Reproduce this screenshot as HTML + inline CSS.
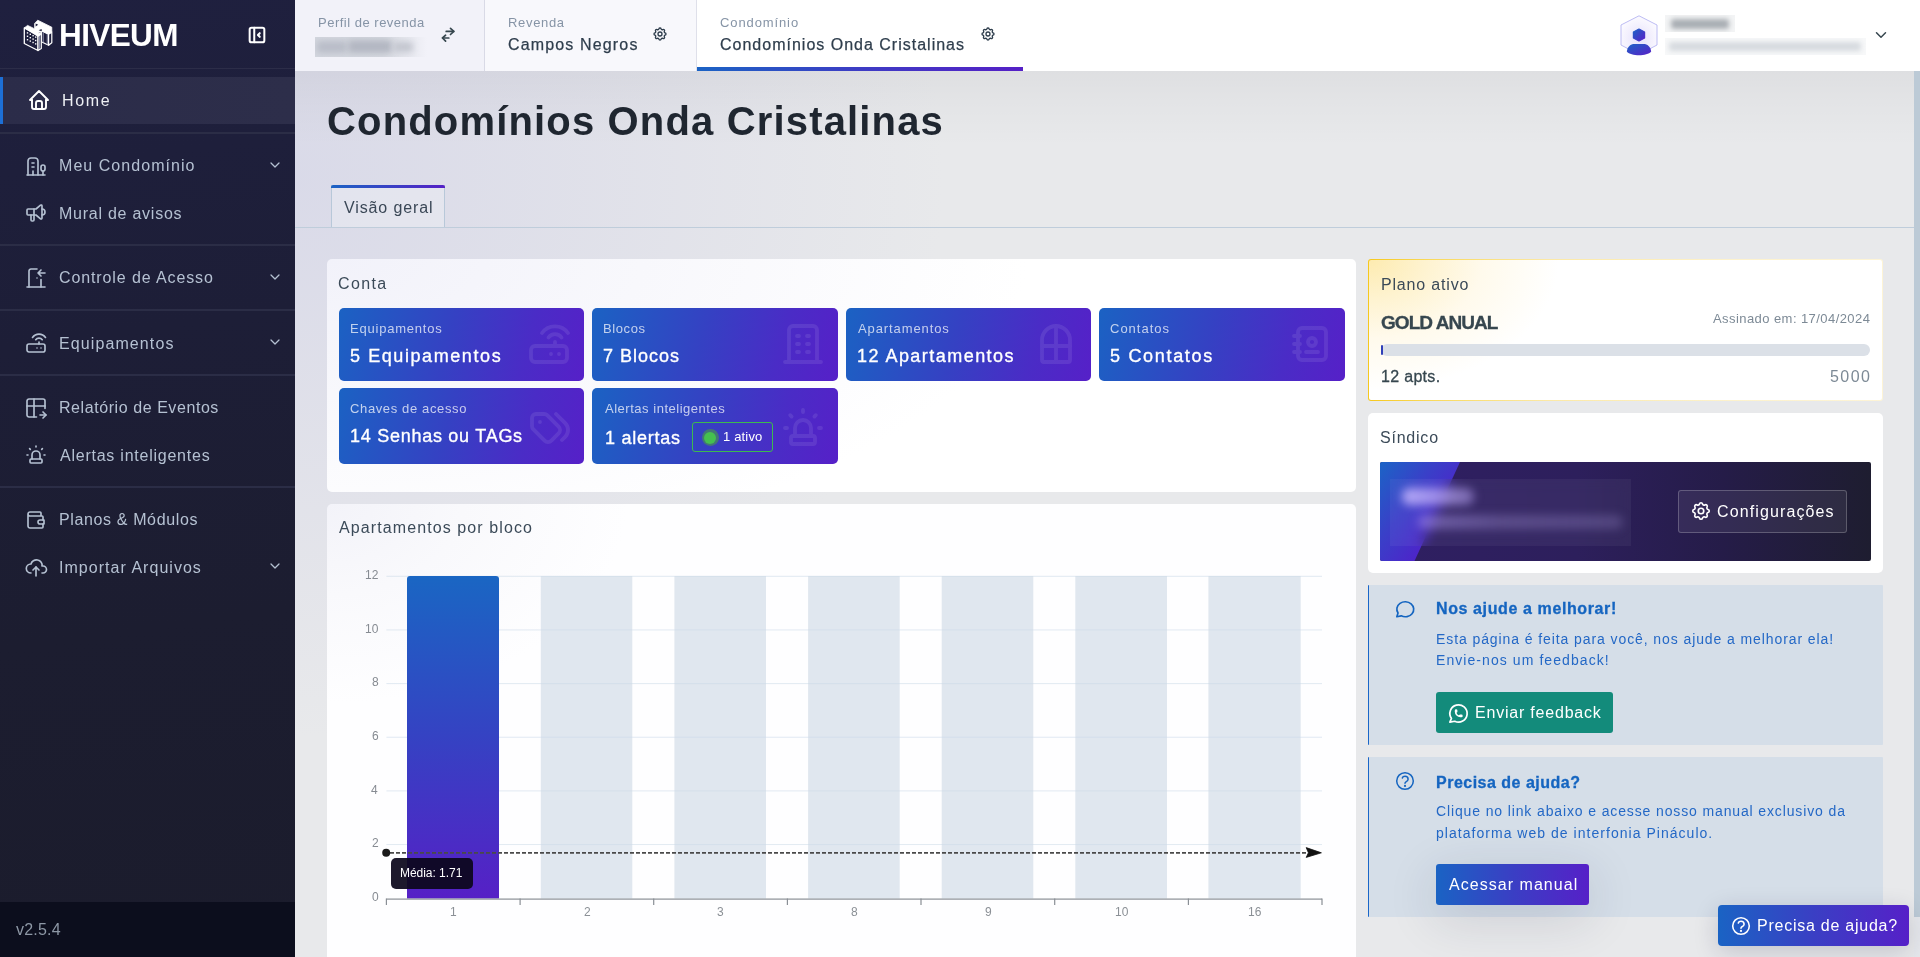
<!DOCTYPE html><html><head><meta charset="utf-8"><style>*{margin:0;padding:0;box-sizing:content-box}
html,body{width:1920px;height:957px;overflow:hidden;background:#e6e7ea}
body{position:relative;font-family:"Liberation Sans",sans-serif}
.a{position:absolute}
.ic{position:absolute;overflow:visible}
.t{position:absolute;white-space:nowrap;line-height:1;will-change:transform}
</style></head><body><div class="a " style="left:0px;top:0px;width:295px;height:957px;background:linear-gradient(172deg,#1f203f 0%,#1d1e37 35%,#1c1d30 65%,#1b1c2c 100%);"></div><svg class="ic" style="left:20px;top:15px;width:40px;height:40px" viewBox="0 0 40 40" fill="none" stroke-linejoin="round">
<path d="M21.3 15.6 L28.6 19.2 L28.6 30.2 L21.3 26.8 Z" fill="#1e1f3d" stroke="#fff" stroke-width="1.2"/>
<path d="M28.6 19.2 L31.8 17 L31.8 27.8 L28.6 30.2 Z" fill="#1e1f3d" stroke="#fff" stroke-width="1.2"/>
<path d="M23.2 16.8V27.3M27.3 18.8V29.2" stroke="#8e90aa" stroke-width="1.1"/>
<path d="M4.3 12.9 L18 19.8 L18 35.5 L4.3 28.5 Z" fill="#1e1f3d" stroke="#fff" stroke-width="1.3"/>
<path d="M18 19.8 L21.3 17.6 L21.3 33.4 L18 35.5 Z" fill="#1e1f3d" stroke="#fff" stroke-width="1.2"/>
<path d="M19.6 20.5V34" stroke="#8e90aa" stroke-width="1.1"/>
<path d="M4.3 12.9 L7.6 10.4 L13.8 13.4 L14.6 12.9 L14.6 8.4 L17.7 5.2 L31.8 12.2 L31.8 17 L28.6 19.2 L22 15.9 L18.2 17.9 L21.3 19.4 L18 21.4 Z" fill="#fff" stroke="#fff" stroke-width="0.8"/>
<path d="M15.6 8.6 L18.2 9.8 L15.6 11.6 Z" fill="#1e1f3d"/>
<path d="M18.6 15.3 L21.6 14 L21.8 16.3 Z" fill="#1e1f3d"/>
<g fill="#fff"><rect x="6.8" y="17.2" width="1.4" height="1.4"/><rect x="9.6" y="18.6" width="1.4" height="1.4"/><rect x="12.4" y="20" width="1.4" height="1.4"/><rect x="15" y="21.4" width="1.4" height="1.4"/>
<rect x="6.8" y="20.6" width="1.4" height="1.4"/><rect x="9.6" y="22" width="1.4" height="1.4"/><rect x="12.4" y="23.4" width="1.4" height="1.4"/><rect x="15" y="24.8" width="1.4" height="1.4"/>
<rect x="6.8" y="24" width="1.4" height="1.4"/><rect x="9.6" y="25.4" width="1.4" height="1.4"/><rect x="12.4" y="26.8" width="1.4" height="1.4"/><rect x="15" y="28.2" width="1.4" height="1.4"/></g>
</svg><div class="t" style="left:59.0px;top:20px;font-size:31.5px;color:#ffffff;letter-spacing:-0.60px;font-weight:700;">HIVEUM</div><svg class="ic" style="left:245.8px;top:23.9px;width:22px;height:22px;opacity:1;" viewBox="0 0 24 24" fill="none" stroke="#ffffff" stroke-width="2.2" stroke-linecap="round" stroke-linejoin="round"><path d="M4 6a2 2 0 0 1 2 -2h12a2 2 0 0 1 2 2v12a2 2 0 0 1 -2 2h-12a2 2 0 0 1 -2 -2z"/><path d="M9 4v16"/><path d="M15 10l-2 2l2 2"/></svg><div class="a " style="left:0px;top:68px;width:295px;height:1px;background:#2c2d48;"></div><div class="a " style="left:0px;top:77px;width:295px;height:47px;background:linear-gradient(90deg,#2b2c49,#2d2e4a);"></div><div class="a " style="left:0px;top:77px;width:3px;height:47px;background:#1d6fd6;"></div><svg class="ic" style="left:26.8px;top:88.0px;width:24px;height:24px;opacity:1;" viewBox="0 0 24 24" fill="none" stroke="#ffffff" stroke-width="1.9" stroke-linecap="round" stroke-linejoin="round"><path d="M5 12l-2 0l9 -9l9 9l-2 0"/><path d="M5 12v7a2 2 0 0 0 2 2h10a2 2 0 0 0 2 -2v-7"/><path d="M9 21v-6a2 2 0 0 1 2 -2h2a2 2 0 0 1 2 2v6"/></svg><div class="t" style="left:61.6px;top:93px;font-size:16px;color:#eef0f4;letter-spacing:1.67px;">Home</div><div class="a " style="left:0px;top:132px;width:295px;height:2px;background:#2b2d46;"></div><div class="a " style="left:0px;top:244px;width:295px;height:2px;background:#2b2d46;"></div><div class="a " style="left:0px;top:309px;width:295px;height:2px;background:#2b2d46;"></div><div class="a " style="left:0px;top:374px;width:295px;height:2px;background:#2b2d46;"></div><div class="a " style="left:0px;top:486px;width:295px;height:2px;background:#2b2d46;"></div><svg class="ic" style="left:23.6px;top:153.5px;width:24px;height:24px;opacity:1;" viewBox="0 0 24 24" fill="none" stroke="#b5c1d2" stroke-width="1.65" stroke-linecap="round" stroke-linejoin="round"><path d="M3 21h18"/><path d="M19 21v-4"/><path d="M19 17a2 2 0 0 0 2 -2v-2a2 2 0 1 0 -4 0v2a2 2 0 0 0 2 2z"/><path d="M14 21v-14a3 3 0 0 0 -3 -3h-4a3 3 0 0 0 -3 3v14"/><path d="M9 17v4"/><path d="M8 13h2"/><path d="M8 9h2"/></svg><div class="t" style="left:58.5px;top:158px;font-size:16px;color:#b5c1d2;letter-spacing:1.05px;">Meu Condomínio</div><svg class="ic" style="left:267px;top:156.9px;width:16px;height:16px;opacity:1;" viewBox="0 0 24 24" fill="none" stroke="#b5c1d2" stroke-width="1.9" stroke-linecap="round" stroke-linejoin="round"><path d="M6 9l6 6l6 -6"/></svg><svg class="ic" style="left:23.6px;top:200.5px;width:24px;height:24px;opacity:1;" viewBox="0 0 24 24" fill="none" stroke="#b5c1d2" stroke-width="1.65" stroke-linecap="round" stroke-linejoin="round"><path d="M18 8a3 3 0 0 1 0 6"/><path d="M10 8v11a1 1 0 0 1 -1 1h-1a1 1 0 0 1 -1 -1v-5"/><path d="M12 8h0l4.524 -3.77a.9 .9 0 0 1 1.476 .692v12.156a.9 .9 0 0 1 -1.476 .692l-4.524 -3.77h-8a1 1 0 0 1 -1 -1v-4a1 1 0 0 1 1 -1h8"/></svg><div class="t" style="left:58.5px;top:206px;font-size:16px;color:#b5c1d2;letter-spacing:0.75px;">Mural de avisos</div><svg class="ic" style="left:23.6px;top:265.5px;width:24px;height:24px;opacity:1;" viewBox="0 0 24 24" fill="none" stroke="#b5c1d2" stroke-width="1.65" stroke-linecap="round" stroke-linejoin="round"><path d="M13 12v.01"/><path d="M3 21h18"/><path d="M5 21v-16a2 2 0 0 1 2 -2h6m4 10.5v7.5"/><path d="M21 7h-7m3 -3l-3 3l3 3"/></svg><div class="t" style="left:58.5px;top:270px;font-size:16px;color:#b5c1d2;letter-spacing:0.89px;">Controle de Acesso</div><svg class="ic" style="left:267px;top:268.9px;width:16px;height:16px;opacity:1;" viewBox="0 0 24 24" fill="none" stroke="#b5c1d2" stroke-width="1.9" stroke-linecap="round" stroke-linejoin="round"><path d="M6 9l6 6l6 -6"/></svg><svg class="ic" style="left:23.6px;top:330.5px;width:24px;height:24px;opacity:1;" viewBox="0 0 24 24" fill="none" stroke="#b5c1d2" stroke-width="1.65" stroke-linecap="round" stroke-linejoin="round"><path d="M3 15a2 2 0 0 1 2 -2h14a2 2 0 0 1 2 2v4a2 2 0 0 1 -2 2h-14a2 2 0 0 1 -2 -2z"/><path d="M17 17v.01"/><path d="M13 17v.01"/><path d="M15 13v-2"/><path d="M11.75 8.75a4 4 0 0 1 6.5 0"/><path d="M8.5 6.5a8 8 0 0 1 13 0"/></svg><div class="t" style="left:58.5px;top:336px;font-size:16px;color:#b5c1d2;letter-spacing:1.10px;">Equipamentos</div><svg class="ic" style="left:267px;top:333.9px;width:16px;height:16px;opacity:1;" viewBox="0 0 24 24" fill="none" stroke="#b5c1d2" stroke-width="1.9" stroke-linecap="round" stroke-linejoin="round"><path d="M6 9l6 6l6 -6"/></svg><svg class="ic" style="left:23.6px;top:395.5px;width:24px;height:24px;opacity:1;" viewBox="0 0 24 24" fill="none" stroke="#b5c1d2" stroke-width="1.65" stroke-linecap="round" stroke-linejoin="round"><path d="M12.5 21h-7.5a2 2 0 0 1 -2 -2v-14a2 2 0 0 1 2 -2h14a2 2 0 0 1 2 2v7.5"/><path d="M3 10h18"/><path d="M10 3v18"/><path d="M16 19h6"/><path d="M19 16l3 3l-3 3"/></svg><div class="t" style="left:58.5px;top:400px;font-size:16px;color:#b5c1d2;letter-spacing:0.57px;">Relatório de Eventos</div><svg class="ic" style="left:23.6px;top:442.5px;width:24px;height:24px;opacity:1;" viewBox="0 0 24 24" fill="none" stroke="#b5c1d2" stroke-width="1.65" stroke-linecap="round" stroke-linejoin="round"><path d="M8 16v-4a4 4 0 0 1 8 0v4"/><path d="M3 12h1m8 -9v1m8 8h1m-15.4 -6.4l.7 .7m12.1 -.7l-.7 .7"/><path d="M6 17a1 1 0 0 1 1 -1h10a1 1 0 0 1 1 1v2a1 1 0 0 1 -1 1h-10a1 1 0 0 1 -1 -1z"/></svg><div class="t" style="left:59.5px;top:448px;font-size:16px;color:#b5c1d2;letter-spacing:0.76px;">Alertas inteligentes</div><svg class="ic" style="left:23.6px;top:507.5px;width:24px;height:24px;opacity:1;" viewBox="0 0 24 24" fill="none" stroke="#b5c1d2" stroke-width="1.65" stroke-linecap="round" stroke-linejoin="round"><path d="M17 8v-3a1 1 0 0 0 -1 -1h-10a2 2 0 0 0 0 4h12a1 1 0 0 1 1 1v3m0 4v3a1 1 0 0 1 -1 1h-12a2 2 0 0 1 -2 -2v-12"/><path d="M20 12v4h-4a2 2 0 0 1 0 -4h4"/></svg><div class="t" style="left:58.5px;top:512px;font-size:16px;color:#b5c1d2;letter-spacing:0.63px;">Planos &amp; Módulos</div><svg class="ic" style="left:23.6px;top:554.5px;width:24px;height:24px;opacity:1;" viewBox="0 0 24 24" fill="none" stroke="#b5c1d2" stroke-width="1.65" stroke-linecap="round" stroke-linejoin="round"><path d="M7 18a4.6 4.4 0 0 1 0 -9a5 4.5 0 0 1 11 2h1a3.5 3.5 0 0 1 0 7h-1"/><path d="M9 15l3 -3l3 3"/><path d="M12 12v9"/></svg><div class="t" style="left:58.5px;top:560px;font-size:16px;color:#b5c1d2;letter-spacing:1.03px;">Importar Arquivos</div><svg class="ic" style="left:267px;top:557.9px;width:16px;height:16px;opacity:1;" viewBox="0 0 24 24" fill="none" stroke="#b5c1d2" stroke-width="1.9" stroke-linecap="round" stroke-linejoin="round"><path d="M6 9l6 6l6 -6"/></svg><div class="a " style="left:0px;top:902px;width:295px;height:55px;background:#0c0e1d;"></div><div class="t" style="left:16.0px;top:922px;font-size:16px;color:#8d97a5;letter-spacing:0.20px;">v2.5.4</div><div class="a " style="left:295px;top:0px;width:1625px;height:71px;background:#ffffff;"></div><div class="a " style="left:295px;top:0px;width:189px;height:71px;background:#f2f2f9;"></div><div class="a " style="left:484px;top:0px;width:1px;height:71px;background:#d9dae6;"></div><div class="a " style="left:485px;top:0px;width:211px;height:71px;background:#f8f8fc;"></div><div class="a " style="left:696px;top:0px;width:1px;height:71px;background:#dfe0ea;"></div><div class="a " style="left:697px;top:67px;width:326px;height:4px;background:linear-gradient(90deg,#1b63c4,#3d3cc4 50%,#5520c6);"></div><div class="t" style="left:318.3px;top:16px;font-size:13px;color:#8694a6;letter-spacing:0.50px;">Perfil de revenda</div><div class="a " style="left:315px;top:37px;width:112px;height:20px;overflow:hidden;background:linear-gradient(90deg,#d3d6de 0%,#d6d9e0 60%,rgba(242,242,249,0) 100%);"><div style="position:absolute;left:2px;top:4px;width:30px;height:12px;background:#b9bdc8;filter:blur(3px);border-radius:3px"></div><div style="position:absolute;left:33px;top:3px;width:44px;height:13px;background:#b3b7c2;filter:blur(3px);border-radius:3px"></div><div style="position:absolute;left:78px;top:5px;width:20px;height:10px;background:#c3c6cf;filter:blur(3px);border-radius:3px"></div></div><svg class="ic" style="left:435px;top:20px;width:30px;height:30px" viewBox="0 0 30 30" fill="none" stroke="#37474f" stroke-width="1.7" stroke-linecap="round" stroke-linejoin="round"><path d="M11.2 11.4H18.7"/><path d="M15.5 8.4L18.8 11.4L15.5 14.5"/><path d="M13.8 18H7.6"/><path d="M10.6 15.2L7.5 18L10.6 21.1"/></svg><div class="t" style="left:507.5px;top:16px;font-size:13px;color:#8694a6;letter-spacing:0.67px;">Revenda</div><div class="t" style="left:507.5px;top:37px;font-size:16px;color:#2f3e4d;letter-spacing:1.15px;-webkit-text-stroke:0.25px #2f3e4d;">Campos Negros</div><svg class="ic" style="left:652px;top:26px;width:16px;height:16px;opacity:1;" viewBox="0 0 24 24" fill="none" stroke="#2f3e4d" stroke-width="2" stroke-linecap="round" stroke-linejoin="round"><path d="M10.325 4.317c.426 -1.756 2.924 -1.756 3.35 0a1.724 1.724 0 0 0 2.573 1.066c1.543 -.94 3.31 .826 2.37 2.37a1.724 1.724 0 0 0 1.065 2.572c1.756 .426 1.756 2.924 0 3.35a1.724 1.724 0 0 0 -1.066 2.573c.94 1.543 -.826 3.31 -2.37 2.37a1.724 1.724 0 0 0 -2.572 1.065c-.426 1.756 -2.924 1.756 -3.35 0a1.724 1.724 0 0 0 -2.573 -1.066c-1.543 .94 -3.31 -.826 -2.37 -2.37a1.724 1.724 0 0 0 -1.065 -2.572c-1.756 -.426 -1.756 -2.924 0 -3.35a1.724 1.724 0 0 0 1.066 -2.573c-.94 -1.543 .826 -3.31 2.37 -2.37c1 .608 2.296 .07 2.572 -1.065z"/><path d="M9 12a3 3 0 1 0 6 0a3 3 0 0 0 -6 0"/></svg><div class="t" style="left:720.0px;top:16px;font-size:13px;color:#8694a6;letter-spacing:0.89px;">Condomínio</div><div class="t" style="left:720.0px;top:37px;font-size:16px;color:#2f3e4d;letter-spacing:1.00px;-webkit-text-stroke:0.25px #2f3e4d;">Condomínios Onda Cristalinas</div><svg class="ic" style="left:980px;top:26px;width:16px;height:16px;opacity:1;" viewBox="0 0 24 24" fill="none" stroke="#2f3e4d" stroke-width="2" stroke-linecap="round" stroke-linejoin="round"><path d="M10.325 4.317c.426 -1.756 2.924 -1.756 3.35 0a1.724 1.724 0 0 0 2.573 1.066c1.543 -.94 3.31 .826 2.37 2.37a1.724 1.724 0 0 0 1.065 2.572c1.756 .426 1.756 2.924 0 3.35a1.724 1.724 0 0 0 -1.066 2.573c.94 1.543 -.826 3.31 -2.37 2.37a1.724 1.724 0 0 0 -2.572 1.065c-.426 1.756 -2.924 1.756 -3.35 0a1.724 1.724 0 0 0 -2.573 -1.066c-1.543 .94 -3.31 -.826 -2.37 -2.37a1.724 1.724 0 0 0 -1.065 -2.572c-1.756 -.426 -1.756 -2.924 0 -3.35a1.724 1.724 0 0 0 1.066 -2.573c-.94 -1.543 .826 -3.31 2.37 -2.37c1 .608 2.296 .07 2.572 -1.065z"/><path d="M9 12a3 3 0 1 0 6 0a3 3 0 0 0 -6 0"/></svg><svg class="ic" style="left:1619px;top:14px;width:40px;height:44px" viewBox="0 0 40 44">
<defs><linearGradient id="ug" x1="0" y1="0" x2="1" y2="1"><stop offset="0" stop-color="#1c62c6"/><stop offset="1" stop-color="#5a21c8"/></linearGradient>
<radialGradient id="hb" cx="0.5" cy="0.6" r="0.6"><stop offset="0" stop-color="#e6e1fb"/><stop offset="1" stop-color="#fcfbff"/></radialGradient></defs>
<path d="M20 1.8 L38 11 L38 31 L20 40.5 L2 31 L2 11 Z" fill="url(#hb)" stroke="#b5b4f2" stroke-width="0.9"/>
<path d="M20 15 L25.6 18 L25.6 24 L20 27 L14.4 24 L14.4 18 Z" fill="url(#ug)" stroke="url(#ug)" stroke-width="1.2" stroke-linejoin="round"/>
<path d="M7.8 37.5 C8.5 32.5 11.5 30 15.5 30 L24.5 30 C28.5 30 31.5 32.5 32.2 37.5 C28 42.5 12 42.5 7.8 37.5 Z" fill="url(#ug)"/>
</svg><div class="a " style="left:1665px;top:15px;width:70px;height:17px;overflow:hidden;background:#f3f4f5;"><div style="position:absolute;left:6px;top:4px;width:58px;height:10px;background:#a9aeb3;filter:blur(2.5px);border-radius:3px"></div></div><div class="a " style="left:1665px;top:38px;width:201px;height:17px;overflow:hidden;background:#f7f8f9;"><div style="position:absolute;left:4px;top:4px;width:192px;height:9px;background:#d6dadf;filter:blur(2.5px);border-radius:3px"></div></div><svg class="ic" style="left:1872px;top:26px;width:18px;height:18px;opacity:1;" viewBox="0 0 24 24" fill="none" stroke="#37474f" stroke-width="2" stroke-linecap="round" stroke-linejoin="round"><path d="M6 9l6 6l6 -6"/></svg><div class="a " style="left:295px;top:71px;width:1619px;height:886px;background:linear-gradient(180deg,rgba(0,0,12,0.045) 0px,rgba(0,0,12,0.02) 35px,rgba(0,0,0,0) 75px),radial-gradient(ellipse 650px 560px at 0% 12%,rgba(203,203,230,0.5),rgba(203,203,230,0) 100%),#e8e9eb;"></div><div class="t" style="left:326.7px;top:101px;font-size:40px;color:#1f2630;letter-spacing:1.16px;font-weight:700;">Condomínios Onda Cristalinas</div><div class="a " style="left:331px;top:185px;width:114px;height:43px;border:1px solid #b8c8d9;border-top:none;border-bottom:none;background:rgba(236,238,243,0.5);box-sizing:border-box;"></div><div class="a " style="left:331px;top:185px;width:114px;height:3px;background:linear-gradient(90deg,#1b63c4,#5520c6);border-radius:2px 2px 0 0;"></div><div class="t" style="left:344.0px;top:200px;font-size:16px;color:#3a4756;letter-spacing:0.88px;">Visão geral</div><div class="a " style="left:295px;top:227px;width:1619px;height:1px;background:#bfcddb;"></div><div class="a " style="left:327px;top:259px;width:1029px;height:233px;background:radial-gradient(ellipse 700px 300px at 0% 0%,#f2f2fa 0%,#f8f8fc 45%,#ffffff 100%);border-radius:5px;"></div><div class="t" style="left:338.1px;top:276px;font-size:16px;color:#3b4a58;letter-spacing:1.38px;">Conta</div><div class="a " style="left:339px;top:308px;width:245px;height:73px;background:linear-gradient(105deg,#1b62c3 0%,#3541c3 45%,#4a2cc6 75%,#5620c8 100%);border-radius:5px;"></div><div class="t" style="left:349.6px;top:322px;font-size:13px;color:rgba(255,255,255,0.72);letter-spacing:0.78px;">Equipamentos</div><div class="t" style="left:350.4px;top:347px;font-size:18px;color:#ffffff;letter-spacing:1.58px;-webkit-text-stroke:0.35px #fff;">5 Equipamentos</div><svg class="ic" style="left:525px;top:320px;width:48px;height:48px;opacity:0.085;" viewBox="0 0 24 24" fill="none" stroke="#ffffff" stroke-width="1.9" stroke-linecap="round" stroke-linejoin="round"><path d="M3 15a2 2 0 0 1 2 -2h14a2 2 0 0 1 2 2v4a2 2 0 0 1 -2 2h-14a2 2 0 0 1 -2 -2z"/><path d="M17 17v.01"/><path d="M13 17v.01"/><path d="M15 13v-2"/><path d="M11.75 8.75a4 4 0 0 1 6.5 0"/><path d="M8.5 6.5a8 8 0 0 1 13 0"/></svg><div class="a " style="left:592px;top:308px;width:246px;height:73px;background:linear-gradient(105deg,#1b62c3 0%,#3541c3 45%,#4a2cc6 75%,#5620c8 100%);border-radius:5px;"></div><div class="t" style="left:602.6px;top:322px;font-size:13px;color:rgba(255,255,255,0.72);letter-spacing:0.60px;">Blocos</div><div class="t" style="left:603.4px;top:347px;font-size:18px;color:#ffffff;letter-spacing:1.00px;-webkit-text-stroke:0.35px #fff;">7 Blocos</div><svg class="ic" style="left:779px;top:320px;width:48px;height:48px;opacity:0.085;" viewBox="0 0 24 24" fill="none" stroke="#ffffff" stroke-width="1.9" stroke-linecap="round" stroke-linejoin="round"><path d="M3 21h18"/><path d="M9 8h1"/><path d="M9 12h1"/><path d="M9 16h1"/><path d="M14 8h1"/><path d="M14 12h1"/><path d="M14 16h1"/><path d="M5 21v-16a2 2 0 0 1 2 -2h10a2 2 0 0 1 2 2v16"/></svg><div class="a " style="left:846px;top:308px;width:245px;height:73px;background:linear-gradient(105deg,#1b62c3 0%,#3541c3 45%,#4a2cc6 75%,#5620c8 100%);border-radius:5px;"></div><div class="t" style="left:857.6px;top:322px;font-size:13px;color:rgba(255,255,255,0.72);letter-spacing:0.90px;">Apartamentos</div><div class="t" style="left:857.4px;top:347px;font-size:18px;color:#ffffff;letter-spacing:1.46px;-webkit-text-stroke:0.35px #fff;">12 Apartamentos</div><svg class="ic" style="left:1032px;top:320px;width:48px;height:48px;opacity:0.085;" viewBox="0 0 24 24" fill="none" stroke="#ffffff" stroke-width="1.9" stroke-linecap="round" stroke-linejoin="round"><path d="M12 3c-3.866 0 -7 3.272 -7 7v10a1 1 0 0 0 1 1h12a1 1 0 0 0 1 -1v-10c0 -3.728 -3.134 -7 -7 -7z"/><path d="M5 13h14"/><path d="M12 3v18"/></svg><div class="a " style="left:1099px;top:308px;width:246px;height:73px;background:linear-gradient(105deg,#1b62c3 0%,#3541c3 45%,#4a2cc6 75%,#5620c8 100%);border-radius:5px;"></div><div class="t" style="left:1109.6px;top:322px;font-size:13px;color:rgba(255,255,255,0.72);letter-spacing:0.99px;">Contatos</div><div class="t" style="left:1110.4px;top:347px;font-size:18px;color:#ffffff;letter-spacing:1.69px;-webkit-text-stroke:0.35px #fff;">5 Contatos</div><svg class="ic" style="left:1286px;top:320px;width:48px;height:48px;opacity:0.085;" viewBox="0 0 24 24" fill="none" stroke="#ffffff" stroke-width="1.9" stroke-linecap="round" stroke-linejoin="round"><path d="M20 6v12a2 2 0 0 1 -2 2h-10a2 2 0 0 1 -2 -2v-12a2 2 0 0 1 2 -2h10a2 2 0 0 1 2 2z"/><path d="M10 16h6"/><path d="M11 11a2 2 0 1 0 4 0a2 2 0 1 0 -4 0"/><path d="M4 8h3"/><path d="M4 12h3"/><path d="M4 16h3"/></svg><div class="a " style="left:339px;top:388px;width:245px;height:76px;background:linear-gradient(105deg,#1b62c3 0%,#3541c3 45%,#4a2cc6 75%,#5620c8 100%);border-radius:5px;"></div><div class="t" style="left:349.6px;top:402px;font-size:13px;color:rgba(255,255,255,0.72);letter-spacing:0.63px;">Chaves de acesso</div><div class="t" style="left:350.4px;top:427px;font-size:18px;color:#ffffff;letter-spacing:0.73px;-webkit-text-stroke:0.35px #fff;">14 Senhas ou TAGs</div><svg class="ic" style="left:525.5px;top:402px;width:48px;height:48px;opacity:0.085;" viewBox="0 0 24 24" fill="none" stroke="#ffffff" stroke-width="1.9" stroke-linecap="round" stroke-linejoin="round"><path d="M3 8v4.172a2 2 0 0 0 .586 1.414l5.71 5.71a2.41 2.41 0 0 0 3.408 0l3.592 -3.592a2.41 2.41 0 0 0 0 -3.408l-5.71 -5.71a2 2 0 0 0 -1.414 -.586h-4.172a2 2 0 0 0 -2 2z"/><path d="M18 19l1.592 -1.592a4.82 4.82 0 0 0 0 -6.816l-4.592 -4.592"/><path d="M7 10h-.01"/></svg><div class="a " style="left:592px;top:388px;width:246px;height:76px;background:linear-gradient(105deg,#1b62c3 0%,#3541c3 45%,#4a2cc6 75%,#5620c8 100%);border-radius:5px;"></div><div class="t" style="left:604.5px;top:402px;font-size:13px;color:rgba(255,255,255,0.72);letter-spacing:0.52px;">Alertas inteligentes</div><div class="t" style="left:604.5px;top:429px;font-size:18px;color:#ffffff;letter-spacing:0.74px;-webkit-text-stroke:0.35px #fff;">1 alertas</div><div class="a " style="left:692px;top:422px;width:81px;height:30px;border:1.5px solid #3dba4e;border-radius:3px;box-sizing:border-box;"></div><div class="a" style="left:701.5px;top:428.7px;width:17.6px;height:17.6px;border-radius:50%;background:rgba(70,140,90,0.75);"></div><div class="a" style="left:704.3px;top:431.5px;width:12px;height:12px;border-radius:50%;background:#45c04f;"></div><div class="t" style="left:723.0px;top:430px;font-size:13px;color:#ffffff;letter-spacing:0.17px;">1 ativo</div><svg class="ic" style="left:779px;top:403.5px;width:48px;height:48px;opacity:0.085;" viewBox="0 0 24 24" fill="none" stroke="#ffffff" stroke-width="1.9" stroke-linecap="round" stroke-linejoin="round"><path d="M8 16v-4a4 4 0 0 1 8 0v4"/><path d="M3 12h1m8 -9v1m8 8h1m-15.4 -6.4l.7 .7m12.1 -.7l-.7 .7"/><path d="M6 17a1 1 0 0 1 1 -1h10a1 1 0 0 1 1 1v2a1 1 0 0 1 -1 1h-10a1 1 0 0 1 -1 -1z"/></svg><div class="a " style="left:327px;top:504px;width:1029px;height:458px;background:radial-gradient(ellipse 300px 200px at 0% 0%,#f3f3f9 0%,#f9f9fc 45%,#fefeff 100%);border-radius:5px;"></div><div class="t" style="left:339.4px;top:520px;font-size:16px;color:#3b4a58;letter-spacing:1.10px;">Apartamentos por bloco</div><svg class="ic" style="left:0;top:0;width:1920px;height:957px" viewBox="0 0 1920 957"><defs><linearGradient id="bg1" x1="0" y1="0" x2="0" y2="1"><stop offset="0" stop-color="#1a66c3"/><stop offset="0.5" stop-color="#3542c3"/><stop offset="1" stop-color="#5620c6"/></linearGradient></defs><rect x="540.8" y="576" width="91.5" height="322.5" fill="#e0e7ef"/><rect x="674.4" y="576" width="91.6" height="322.5" fill="#e0e7ef"/><rect x="808.1" y="576" width="91.6" height="322.5" fill="#e0e7ef"/><rect x="941.7" y="576" width="91.6" height="322.5" fill="#e0e7ef"/><rect x="1075.3" y="576" width="91.7" height="322.5" fill="#e0e7ef"/><rect x="1208.4" y="576" width="92.3" height="322.5" fill="#e0e7ef"/><rect x="386.4" y="575.80" width="935.6" height="1" fill="#ccd9e8" fill-opacity="0.56"/><rect x="386.4" y="629.45" width="935.6" height="1" fill="#ccd9e8" fill-opacity="0.56"/><rect x="386.4" y="683.10" width="935.6" height="1" fill="#ccd9e8" fill-opacity="0.56"/><rect x="386.4" y="736.75" width="935.6" height="1" fill="#ccd9e8" fill-opacity="0.56"/><rect x="386.4" y="790.40" width="935.6" height="1" fill="#ccd9e8" fill-opacity="0.56"/><rect x="386.4" y="844.05" width="935.6" height="1" fill="#ccd9e8" fill-opacity="0.56"/><path d="M407 898.5 V579 a3 3 0 0 1 3 -3 H496 a3 3 0 0 1 3 3 V898.5 Z" fill="url(#bg1)"/><rect x="386.4" y="898.5" width="935.6" height="1.2" fill="#8a8f96"/><rect x="385.8" y="898.5" width="1.2" height="6.5" fill="#8a8f96"/><rect x="519.5" y="898.5" width="1.2" height="6.5" fill="#8a8f96"/><rect x="653.1" y="898.5" width="1.2" height="6.5" fill="#8a8f96"/><rect x="786.8" y="898.5" width="1.2" height="6.5" fill="#8a8f96"/><rect x="920.4" y="898.5" width="1.2" height="6.5" fill="#8a8f96"/><rect x="1054.1" y="898.5" width="1.2" height="6.5" fill="#8a8f96"/><rect x="1187.8" y="898.5" width="1.2" height="6.5" fill="#8a8f96"/><rect x="1321.4" y="898.5" width="1.2" height="6.5" fill="#8a8f96"/><line x1="390" y1="852.8" x2="1307" y2="852.8" stroke="#4a4a4a" stroke-width="1.7" stroke-dasharray="4 2"/><path d="M1306.2 847.6 L1321.4 852.8 L1306.2 857.4 L1308.4 852.8 Z" fill="#111" stroke="#111" stroke-width="0.8" stroke-linejoin="round"/><circle cx="386.2" cy="852.8" r="4" fill="#1a1a1a"/></svg><div class="t" style="left:365.3px;top:569px;font-size:12px;color:#868b92;letter-spacing:0.00px;">12</div><div class="t" style="left:365.3px;top:623px;font-size:12px;color:#868b92;letter-spacing:0.00px;">10</div><div class="t" style="left:372.3px;top:676px;font-size:12px;color:#868b92;letter-spacing:0.00px;">8</div><div class="t" style="left:372.3px;top:730px;font-size:12px;color:#868b92;letter-spacing:0.00px;">6</div><div class="t" style="left:371.3px;top:784px;font-size:12px;color:#868b92;letter-spacing:0.00px;">4</div><div class="t" style="left:372.3px;top:837px;font-size:12px;color:#868b92;letter-spacing:0.00px;">2</div><div class="t" style="left:372.3px;top:891px;font-size:12px;color:#868b92;letter-spacing:0.00px;">0</div><div class="t" style="left:449.7px;top:906px;font-size:12px;color:#8b9096;letter-spacing:0.00px;">1</div><div class="t" style="left:583.8px;top:906px;font-size:12px;color:#8b9096;letter-spacing:0.00px;">2</div><div class="t" style="left:717.0px;top:906px;font-size:12px;color:#8b9096;letter-spacing:0.00px;">3</div><div class="t" style="left:851.2px;top:906px;font-size:12px;color:#8b9096;letter-spacing:0.00px;">8</div><div class="t" style="left:984.8px;top:906px;font-size:12px;color:#8b9096;letter-spacing:0.00px;">9</div><div class="t" style="left:1114.5px;top:906px;font-size:12px;color:#8b9096;letter-spacing:0.00px;">10</div><div class="t" style="left:1248.1px;top:906px;font-size:12px;color:#8b9096;letter-spacing:0.00px;">16</div><div class="a " style="left:391px;top:857.6px;width:81.60000000000002px;height:31.399999999999977px;background:rgba(12,8,28,0.93);border-radius:5px;"></div><div class="t" style="left:400.4px;top:867px;font-size:12px;color:#ffffff;letter-spacing:-0.04px;">Média: 1.71</div><div class="a " style="left:1368px;top:259px;width:515px;height:142px;background:linear-gradient(90deg,#f6c81e 0%,#f9d95c 12%,#fce9a6 35%,#fdf2cc 70%,#fdf4d6 100%);border-radius:3px;"></div><div class="a " style="left:1369px;top:260px;width:513px;height:140px;background:radial-gradient(ellipse 190px 130px at 0% 0%,#fdebb0 0%,#fef3d0 30%,#fffaec 60%,rgba(255,255,255,0) 100%),#ffffff;border-radius:2px;"></div><div class="t" style="left:1380.5px;top:277px;font-size:16px;color:#3b4a58;letter-spacing:0.82px;">Plano ativo</div><div class="t" style="left:1380.5px;top:313px;font-size:19px;color:#37474f;letter-spacing:-0.96px;font-weight:700;-webkit-text-stroke:0.3px #37474f;">GOLD ANUAL</div><div class="t" style="left:1712.8px;top:312px;font-size:13px;color:#7d8a96;letter-spacing:0.43px;">Assinado em: 17/04/2024</div><div class="a " style="left:1381px;top:344px;width:489px;height:12px;background:#dbe0e7;border-radius:6px;"></div><div class="a " style="left:1381px;top:345px;width:1.5px;height:10px;background:#3040b8;border-radius:1px;"></div><div class="t" style="left:1380.5px;top:369px;font-size:16px;color:#37474f;letter-spacing:0.31px;-webkit-text-stroke:0.3px #37474f;">12 apts.</div><div class="t" style="left:1829.6px;top:369px;font-size:16px;color:#7d8a96;letter-spacing:1.47px;">5000</div><div class="a " style="left:1368px;top:413px;width:515px;height:160px;background:#ffffff;border-radius:5px;"></div><div class="t" style="left:1379.5px;top:430px;font-size:16px;color:#3b4a58;letter-spacing:0.78px;">Síndico</div><div class="a " style="left:1380px;top:462px;width:491px;height:99px;background:linear-gradient(90deg,#2f1f62 0%,#2d1f5c 40%,#251c48 70%,#1e1d30 100%);border-radius:2px;overflow:hidden;"><div style="position:absolute;left:0;top:0;width:100%;height:100%;background:linear-gradient(125deg,#1b64c6 0%,#3a3fc8 10%,#5020ca 20%);clip-path:polygon(0 0,80px 0,34.5px 99px,0 99px);"></div><div style="position:absolute;left:10px;top:17px;width:241px;height:67px;background:rgba(255,255,255,0.05);backdrop-filter:blur(7px);-webkit-backdrop-filter:blur(7px);"></div><div style="position:absolute;left:22px;top:26px;width:72px;height:17px;background:linear-gradient(90deg,rgba(200,185,255,0.85),rgba(170,150,230,0.55));filter:blur(5px);border-radius:8px;"></div><div style="position:absolute;left:38px;top:53px;width:205px;height:14px;background:linear-gradient(90deg,rgba(170,150,235,0.5),rgba(150,135,200,0.38) 40%,rgba(150,135,200,0.3));filter:blur(5px);border-radius:7px;"></div></div><div class="a " style="left:1678px;top:490px;width:169px;height:43px;background:rgba(255,255,255,0.07);border:1px solid rgba(255,255,255,0.22);border-radius:3px;box-sizing:border-box;"></div><svg class="ic" style="left:1690px;top:500px;width:22px;height:22px;opacity:1;" viewBox="0 0 24 24" fill="none" stroke="#ffffff" stroke-width="1.8" stroke-linecap="round" stroke-linejoin="round"><path d="M10.325 4.317c.426 -1.756 2.924 -1.756 3.35 0a1.724 1.724 0 0 0 2.573 1.066c1.543 -.94 3.31 .826 2.37 2.37a1.724 1.724 0 0 0 1.065 2.572c1.756 .426 1.756 2.924 0 3.35a1.724 1.724 0 0 0 -1.066 2.573c.94 1.543 -.826 3.31 -2.37 2.37a1.724 1.724 0 0 0 -2.572 1.065c-.426 1.756 -2.924 1.756 -3.35 0a1.724 1.724 0 0 0 -2.573 -1.066c-1.543 .94 -3.31 -.826 -2.37 -2.37a1.724 1.724 0 0 0 -1.065 -2.572c-1.756 -.426 -1.756 -2.924 0 -3.35a1.724 1.724 0 0 0 1.066 -2.573c-.94 -1.543 .826 -3.31 2.37 -2.37c1 .608 2.296 .07 2.572 -1.065z"/><path d="M9 12a3 3 0 1 0 6 0a3 3 0 0 0 -6 0"/></svg><div class="t" style="left:1717.4px;top:504px;font-size:16px;color:#ffffff;letter-spacing:1.12px;">Configurações</div><div class="a " style="left:1368px;top:585px;width:515px;height:160px;background:#d5dee8;border-left:1px solid #1a66c8;box-sizing:border-box;border-radius:1px;"></div><svg class="ic" style="left:1393.8px;top:598px;width:22.5px;height:22.5px;opacity:1;" viewBox="0 0 24 24" fill="none" stroke="#1565c0" stroke-width="1.8" stroke-linecap="round" stroke-linejoin="round"><path d="M3 20l1.3 -3.9c-2.324 -3.437 -1.426 -7.872 2.1 -10.374c3.526 -2.501 8.59 -2.296 11.845 .48c3.255 2.777 3.695 7.266 1.029 10.501c-2.666 3.235 -7.615 4.215 -11.574 2.293l-4.7 1"/></svg><div class="t" style="left:1435.8px;top:601px;font-size:16px;color:#1565c0;letter-spacing:0.61px;font-weight:700;-webkit-text-stroke:0.3px #1565c0;">Nos ajude a melhorar!</div><div class="t" style="left:1436.0px;top:632px;font-size:14px;color:#2468c6;letter-spacing:0.91px;">Esta página é feita para você, nos ajude a melhorar ela!</div><div class="t" style="left:1436.0px;top:653px;font-size:14px;color:#2468c6;letter-spacing:1.07px;">Envie-nos um feedback!</div><div class="a " style="left:1436px;top:692px;width:177px;height:41px;background:#138b7b;border-radius:3px;"></div><svg class="ic" style="left:1447px;top:702px;width:23px;height:23px;opacity:1;" viewBox="0 0 24 24" fill="none" stroke="#ffffff" stroke-width="1.8" stroke-linecap="round" stroke-linejoin="round"><path d="M3 21l1.65 -3.8a9 9 0 1 1 3.4 2.9l-5.05 .9"/><path d="M9 10a.5 .5 0 0 0 1 0v-1a.5 .5 0 0 0 -1 0v1a5 5 0 0 0 5 5h1a.5 .5 0 0 0 0 -1h-1a.5 .5 0 0 0 0 1"/></svg><div class="t" style="left:1475.0px;top:705px;font-size:16px;color:#ffffff;letter-spacing:0.79px;">Enviar feedback</div><div class="a " style="left:1368px;top:757px;width:515px;height:160px;background:#d5dee8;border-left:1px solid #1a66c8;box-sizing:border-box;border-radius:1px;"></div><svg class="ic" style="left:1392.9px;top:768.8px;width:24px;height:24px;opacity:1;" viewBox="0 0 24 24" fill="none" stroke="#1565c0" stroke-width="1.5" stroke-linecap="round" stroke-linejoin="round"><circle cx="12" cy="12" r="8.3"/><path d="M9.3 9C9.6 7.9 10.7 7.2 12 7.2C13.7 7.2 15.1 8.5 15.1 10.2C15.1 11.6 14 12.3 13 12.8C12.3 13.2 12 13.6 12 14.3"/><path d="M12 16.9v.01" stroke-width="2.2"/></svg><div class="t" style="left:1435.6px;top:775px;font-size:16px;color:#1565c0;letter-spacing:0.49px;font-weight:700;-webkit-text-stroke:0.3px #1565c0;">Precisa de ajuda?</div><div class="t" style="left:1436.0px;top:804px;font-size:14px;color:#2468c6;letter-spacing:0.87px;">Clique no link abaixo e acesse nosso manual exclusivo da</div><div class="t" style="left:1436.0px;top:826px;font-size:14px;color:#2468c6;letter-spacing:1.03px;">plataforma web de interfonia Pináculo.</div><div class="a " style="left:1436px;top:864px;width:153px;height:41px;background:linear-gradient(90deg,#1a63c4,#3a3fc4 50%,#5620c8);border-radius:3px;box-shadow:0 12px 50px rgba(30,40,70,0.16);"></div><div class="t" style="left:1449.0px;top:877px;font-size:16px;color:#ffffff;letter-spacing:1.04px;">Acessar manual</div><div class="a " style="left:1914px;top:71px;width:6px;height:886px;background:#e6e8ec;"></div><div class="a " style="left:1914px;top:71px;width:6px;height:846px;background:#bccad6;"></div><div class="a " style="left:1718px;top:905px;width:191px;height:41px;background:linear-gradient(90deg,#1a63c4,#3a3fc4 50%,#5620c8);border-radius:4px;box-shadow:0 6px 24px rgba(30,30,60,0.18);"></div><svg class="ic" style="left:1728.85px;top:914.1px;width:24px;height:24px;opacity:1;" viewBox="0 0 24 24" fill="none" stroke="#ffffff" stroke-width="1.6" stroke-linecap="round" stroke-linejoin="round"><circle cx="12" cy="12" r="8.3"/><path d="M9.3 9C9.6 7.9 10.7 7.2 12 7.2C13.7 7.2 15.1 8.5 15.1 10.2C15.1 11.6 14 12.3 13 12.8C12.3 13.2 12 13.6 12 14.3"/><path d="M12 16.9v.01" stroke-width="2.2"/></svg><div class="t" style="left:1756.5px;top:918px;font-size:16px;color:#ffffff;letter-spacing:0.75px;">Precisa de ajuda?</div></body></html>
